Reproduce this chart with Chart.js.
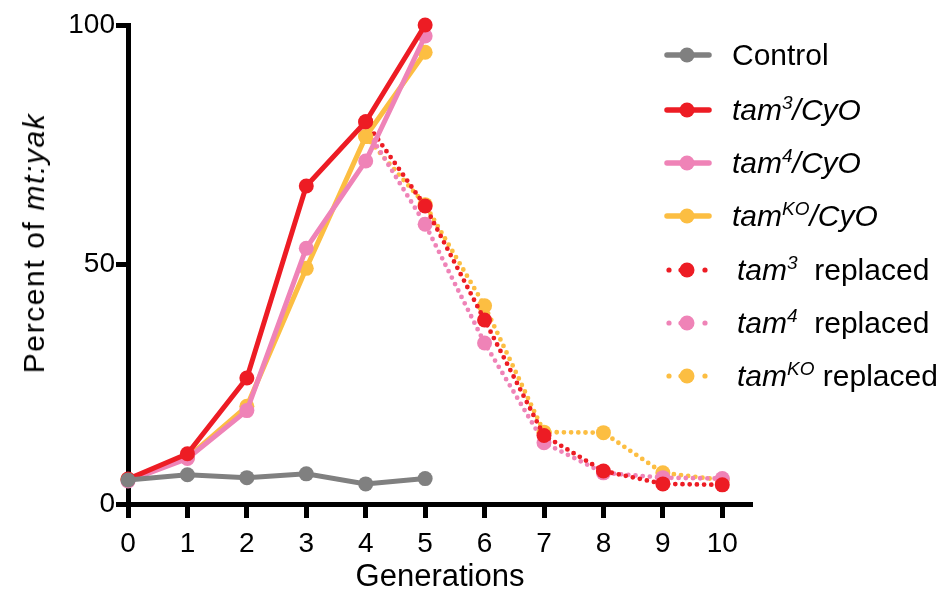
<!DOCTYPE html>
<html>
<head>
<meta charset="utf-8">
<script src="https://cdn.jsdelivr.net/npm/chart.js@4.4.1/dist/chart.umd.min.js"></script>
<style>
  html, body { margin:0; padding:0; background:#fff; }
  #wrap { position:relative; width:942px; height:594px; font-family:"Liberation Sans", Arial, Helvetica, sans-serif; color:#000; }
  #wrap canvas { position:absolute; left:0; top:0; }
  .ytitle { position:absolute; left:34px; top:243px; transform:translate(-50%,-50%) rotate(-90deg); white-space:nowrap; font-size:30px; letter-spacing:1.6px; }
  .legend { position:absolute; left:0; top:0; }
  .legend .row { position:absolute; left:660px; height:40px; width:280px; }
  .legend svg { position:absolute; left:0; top:0; }
  .legend .txt { position:absolute; top:3px; font-size:30px; line-height:34px; white-space:nowrap; }
  .legend sup { font-size:19px; vertical-align:0; position:relative; top:-11px; }
  i { font-style:italic; }
</style>
</head>
<body>
<div id="wrap">
  <canvas id="chart" width="942" height="594"></canvas>
  <div class="ytitle">Percent of <i>mt:yak</i></div>
  <div class="legend" id="legend"></div>
</div>
<script>
// generations on the x axis
const generations = [0, 1, 2, 3, 4, 5];
const replacedGenerations = [4, 5, 6, 7, 8, 9, 10];
const xTicks = [0, 1, 2, 3, 4, 5, 6, 7, 8, 9, 10];
const yTicks = [0, 50, 100];

// percent of mt:yak, balancer-carrying lines
const control  = [5.0, 6.1, 5.5, 6.3, 4.2, 5.3];
const tam3CyO  = [5.2, 10.5, 26.3, 66.4, 79.8, 100];
const tam4CyO  = [4.8, 9.5, 19.5, 53.4, 71.6, 97.7];
const tamKOCyO = [5.1, 9.7, 20.4, 49.2, 76.7, 94.3];

// after the balancer was replaced (from generation 4 on)
const tam3Replaced  = [79.8, 62.2, 38.4, 14.3, 6.9, 4.2, 4.0];
const tam4Replaced  = [78.5, 58.4, 33.6, 12.8, 6.5, 5.5, 5.3];
const tamKOReplaced = [76.7, 62.5, 41.4, 15.0, 14.9, 6.5, 5.0];

const GRAY = '#808080', RED = '#ED1C24', PINK = '#EF83B7', ORANGE = '#FCBE42';

function pts(xs, ys){ return xs.map((x, i) => ({ x, y: ys[i] })); }

function solid(label, xs, ys, color, order){
  return { label, data: pts(xs, ys), borderColor: color, backgroundColor: color,
    borderWidth: 5, pointRadius: 7.5, pointHoverRadius: 7.5, pointBorderWidth: 0,
    tension: 0, clip: false, order };
}
function dotted(label, xs, ys, color, order){
  return { label, data: pts(xs, ys), borderColor: color, backgroundColor: color,
    borderWidth: 4.8, borderDash: [0, 7.2], borderCapStyle: 'round',
    pointRadius: 7.5, pointHoverRadius: 7.5, pointBorderWidth: 0,
    tension: 0, clip: false, order };
}

const datasets = [
  solid('Control', generations, control, GRAY, 0),
  solid('tam3/CyO', generations, tam3CyO, RED, 1),
  solid('tam4/CyO', generations, tam4CyO, PINK, 2),
  solid('tamKO/CyO', generations, tamKOCyO, ORANGE, 3),
  dotted('tam3 replaced', replacedGenerations, tam3Replaced, RED, 4),
  dotted('tam4 replaced', replacedGenerations, tam4Replaced, PINK, 5),
  dotted('tamKO replaced', replacedGenerations, tamKOReplaced, ORANGE, 6),
];

const legendHtml = [
  'Control',
  '<i>tam<sup>3</sup>/CyO</i>',
  '<i>tam<sup>4</sup>/CyO</i>',
  '<i>tam<sup>KO</sup>/CyO</i>',
  '<i>tam<sup>3</sup></i>&nbsp; replaced',
  '<i>tam<sup>4</sup></i>&nbsp; replaced',
  '<i>tam<sup>KO</sup></i> replaced',
];

const tickFont = { family: '"Liberation Sans", Arial, sans-serif', size: 28 };

new Chart(document.getElementById('chart'), {
  type: 'line',
  data: { datasets },
  options: {
    responsive: false,
    devicePixelRatio: 1,
    animation: false,
    events: [],
    layout: { padding: { top: 25, right: 190, bottom: 0, left: 0 } },
    plugins: { legend: { display: false }, tooltip: { enabled: false } },
    scales: {
      x: {
        type: 'linear', min: 0, max: 10.5,
        afterFit: s => { s.height = 90; },
        afterBuildTicks: s => { s.ticks = xTicks.map(v => ({ value: v })); },
        border: { display: true, color: '#000', width: 5 },
        grid: { drawOnChartArea: false, color: '#000', tickColor: '#000', tickLength: 14, tickWidth: 5 },
        ticks: { color: '#000', font: tickFont, padding: 9, maxRotation: 0 },
        title: { display: true, text: 'Generations', color: '#000',
          font: { family: '"Liberation Sans", Arial, sans-serif', size: 31, lineHeight: 1.05 },
          padding: { top: 0, bottom: 0 } }
      },
      y: {
        type: 'linear', min: 0, max: 100,
        afterFit: s => { s.width = 128; },
        afterBuildTicks: s => { s.ticks = yTicks.map(v => ({ value: v })); },
        border: { display: true, color: '#000', width: 5 },
        grid: { drawOnChartArea: false, color: '#000', tickColor: '#000', tickLength: 12, tickWidth: 5 },
        ticks: { color: '#000', font: tickFont, padding: 1 }
      }
    }
  }
});

// legend: a line swatch with a dot, then the label
const rowCenters = [55, 110, 163, 216, 270, 323, 376];
const legend = document.getElementById('legend');
datasets.forEach((ds, i) => {
  const c = ds.borderColor;
  const isDotted = !!ds.borderDash;
  const swatch = isDotted
    ? `<circle cx="9" cy="20" r="2.6" fill="${c}"/><circle cx="21" cy="20" r="2.6" fill="${c}"/>
       <circle cx="27" cy="20" r="7.5" fill="${c}"/><circle cx="45" cy="20" r="2.6" fill="${c}"/>`
    : `<line x1="7" y1="20" x2="49" y2="20" stroke="${c}" stroke-width="5.5" stroke-linecap="round"/>
       <circle cx="27" cy="20" r="7.5" fill="${c}"/>`;
  const row = document.createElement('div');
  row.className = 'row';
  row.style.top = (rowCenters[i] - 20) + 'px';
  row.innerHTML = `<svg width="60" height="40">${swatch}</svg>
    <div class="txt" style="left:${isDotted ? 77 : 72}px">${legendHtml[i]}</div>`;
  legend.appendChild(row);
});
</script>
</body>
</html>
